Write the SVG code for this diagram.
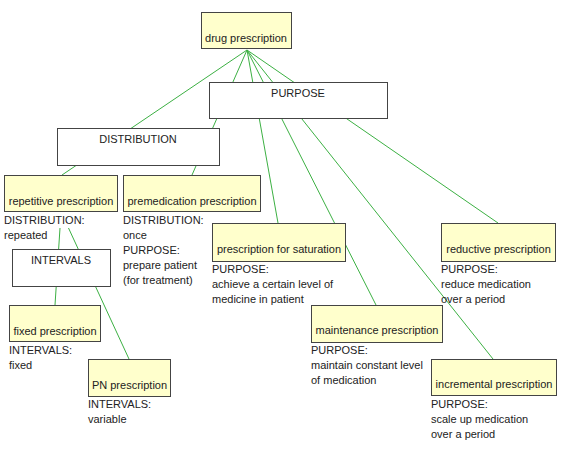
<svg xmlns="http://www.w3.org/2000/svg" width="563" height="451" viewBox="0 0 563 451">
<style>
text{font-family:"Liberation Sans",Arial,sans-serif;font-size:11px;fill:#222}
.c{text-anchor:middle}
.n{fill:#ffffcc;stroke:#444;stroke-width:1}
.f{fill:#fff;stroke:#444;stroke-width:1}
.e{stroke:#3cb043;stroke-width:1;fill:none}
</style>
<rect width="563" height="451" fill="#fff"/>
<g id="connectors">
<line class="e" x1="247" y1="50" x2="62" y2="175"/>
<line class="e" x1="247" y1="50" x2="192" y2="175"/>
<line class="e" x1="247" y1="50" x2="278" y2="223"/>
<line class="e" x1="247" y1="50" x2="376" y2="305"/>
<line class="e" x1="247" y1="50" x2="493" y2="359"/>
<line class="e" x1="247" y1="50" x2="498" y2="223"/>
<line class="e" x1="60" y1="228" x2="55" y2="305"/>
<line class="e" x1="68.5" y1="228" x2="129" y2="359"/>
</g>
<g id="purpose">
<rect class="f" x="209.5" y="82.5" width="178" height="36"/>
<text class="c" x="298" y="97">PURPOSE</text>
</g>
<g id="distribution">
<rect class="f" x="57.5" y="128.5" width="162" height="37"/>
<text class="c" x="138" y="143">DISTRIBUTION</text>
</g>
<g id="intervals">
<rect class="f" x="12.5" y="249.5" width="98" height="37"/>
<text class="c" x="61" y="264">INTERVALS</text>
</g>
<g id="drug-prescription">
<rect class="n" x="201.5" y="12.5" width="90" height="36"/>
<text class="c" x="246" y="42">drug prescription</text>
</g>
<g id="repetitive-prescription">
<rect class="n" x="4.5" y="175.5" width="113" height="36"/>
<text class="c" x="61" y="205">repetitive prescription</text>
<text x="4" y="224">DISTRIBUTION:</text>
<text x="4" y="239">repeated</text>
</g>
<g id="premedication-prescription">
<rect class="n" x="123.5" y="175.5" width="137" height="36"/>
<text class="c" x="192" y="205">premedication prescription</text>
<text x="123" y="224">DISTRIBUTION:</text>
<text x="123" y="239">once</text>
<text x="123" y="254">PURPOSE:</text>
<text x="123" y="269">prepare patient</text>
<text x="123" y="284">(for treatment)</text>
</g>
<g id="fixed-prescription">
<rect class="n" x="9.5" y="305.5" width="91" height="36"/>
<text class="c" x="55" y="335">fixed prescription</text>
<text x="9" y="354">INTERVALS:</text>
<text x="9" y="369">fixed</text>
</g>
<g id="pn-prescription">
<rect class="n" x="88.5" y="359.5" width="82" height="37"/>
<text class="c" x="129.5" y="389">PN prescription</text>
<text x="88" y="408">INTERVALS:</text>
<text x="88" y="423">variable</text>
</g>
<g id="prescription-for-saturation">
<rect class="n" x="212.5" y="223.5" width="133" height="38"/>
<text class="c" x="279" y="253">prescription for saturation</text>
<text x="212" y="273">PURPOSE:</text>
<text x="212" y="288">achieve a certain level of</text>
<text x="212" y="303">medicine in patient</text>
</g>
<g id="maintenance-prescription">
<rect class="n" x="311.5" y="305.5" width="131" height="37"/>
<text class="c" x="377" y="334">maintenance prescription</text>
<text x="311" y="354">PURPOSE:</text>
<text x="311" y="369">maintain constant level</text>
<text x="311" y="384">of medication</text>
</g>
<g id="reductive-prescription">
<rect class="n" x="441.5" y="223.5" width="114" height="38"/>
<text class="c" x="498.5" y="253">reductive prescription</text>
<text x="441" y="273">PURPOSE:</text>
<text x="441" y="288">reduce medication</text>
<text x="441" y="303">over a period</text>
</g>
<g id="incremental-prescription">
<rect class="n" x="431.5" y="359.5" width="125" height="36"/>
<text class="c" x="494" y="388">incremental prescription</text>
<text x="431" y="408">PURPOSE:</text>
<text x="431" y="423">scale up medication</text>
<text x="431" y="438">over a period</text>
</g>
</svg>
